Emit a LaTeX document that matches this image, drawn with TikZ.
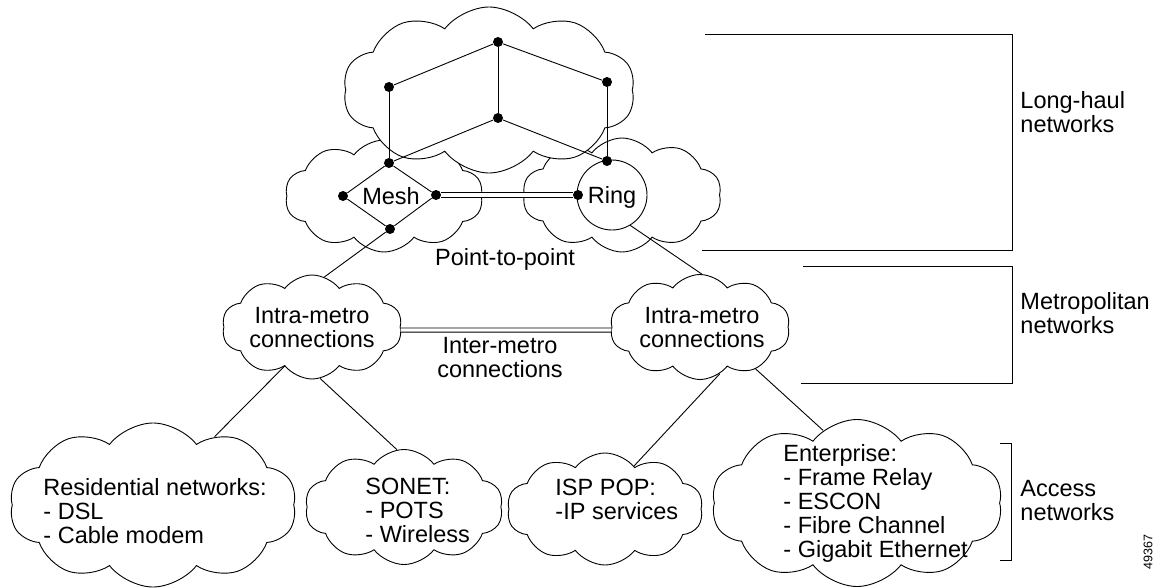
\documentclass[tikz,border=0pt]{standalone}
\usepackage{fontspec}
\setmainfont{Liberation Sans}
\usetikzlibrary{shapes.symbols}

\tikzset{
  netcloud/.style={cloud, draw, fill=white, cloud puffs=10, cloud puff arc=105, cloud ignores aspect, inner sep=0pt},
  netdot/.style={circle, fill=black, inner sep=0pt, minimum size=10pt},
  cloudtext/.style={inner sep=0pt, align=left, anchor=west},
}

\begin{document}
\begin{tikzpicture}[x=1pt, y=-1pt, line width=0.9pt, font=\fontsize{23.5}{24}\selectfont]
        \useasboundingbox (0,0) rectangle (1166,588);

        % long-haul clouds
        \node[netcloud, minimum width=198pt, minimum height=112pt] (lhLeft) at (384,196) {};
        \node[netcloud, minimum width=199pt, minimum height=114pt] (lhRight) at (622,195) {};
        \node[netcloud, minimum width=292pt, minimum height=166pt] (lhTop) at (489,90) {};

        % core nodes
        \node[netdot] (tA) at (498,42) {};
        \node[netdot] (tL) at (389,87) {};
        \node[netdot] (tR) at (607,82) {};
        \node[netdot] (tC) at (498,118) {};
        \node[netdot] (mT) at (389,163) {};
        \node[netdot] (rT) at (607,161) {};
        \node[netdot] (mL) at (343,196) {};
        \node[netdot] (mR) at (436,195) {};
        \node[netdot] (mB) at (390,229) {};
        \node[netdot] (rL) at (578,195) {};
        \node[circle, draw, inner sep=0pt, text depth=0pt, minimum size=70pt] (ring) at (612,195) {Ring};
        \node[inner sep=0pt, text depth=0pt] (meshLbl) at (391,196) {Mesh};

        \draw (tA) -- (tL);
        \draw (tA) -- (tR);
        \draw (tA) -- (tC);
        \draw (tL) -- (mT);
        \draw (tR) -- (rT);
        \draw (tC) -- (mT);
        \draw (tC) -- (rT);
        % mesh
        \draw (mT) -- (mL) -- (mB) -- (mR) -- (mT);
        \draw[double, double distance=4.5pt] (mR) -- (rL);

        \node[inner sep=0pt] (p2p) at (505,259) {Point-to-point};

        % metro clouds
        \node[netcloud, minimum width=180pt, minimum height=104pt] (metroL) at (312,327) {};
        \node[netcloud, minimum width=180pt, minimum height=105pt] (metroR) at (700,327) {};
        \node[inner sep=0pt, align=center] (metroLtxt) at (312,328) {Intra-metro\\connections};
        \node[inner sep=0pt, align=center] (metroRtxt) at (702,328) {Intra-metro\\connections};
        \draw[double, double distance=3.2pt] ([yshift=-3pt]metroL.east) -- ([yshift=-3pt]metroR.west);
        \node[inner sep=0pt, align=center] (intertxt) at (500,358) {Inter-metro\\connections};

        \draw (mB) -- (metroL.76);
        \draw (ring.-59) -- (metroR.88);

        % access clouds
        \node[netcloud, minimum width=287pt, minimum height=164pt] (res) at (153,505) {};
        \node[netcloud, minimum width=198pt, minimum height=115pt] (sonet) at (404,507) {};
        \node[netcloud, minimum width=196pt, minimum height=112pt] (isp) at (605,509) {};
        \node[netcloud, minimum width=291pt, minimum height=167pt] (ent) at (857,503) {};

        \node[cloudtext] (restxt) at (43,511) {Residential networks:\\- DSL\\- Cable modem};
        \node[cloudtext] (sonettxt) at (365,510) {SONET:\\- POTS\\- Wireless};
        \node[cloudtext] (isptxt) at (555,499) {ISP POP:\\-IP services};
        \node[cloudtext] (enttxt) at (783,503) {Enterprise:\\- Frame Relay\\- ESCON\\- Fibre Channel\\- Gigabit Ethernet};

        \draw (metroL.235) -- (res.48);
        \draw (metroL.279) -- (sonet.97);
        \draw (metroR.293) -- (isp.56);
        \draw (metroR.323) -- (ent.115);

        % brackets
        \draw (705,34) -- (1012,34) -- (1012,250) -- (702,250);
        \draw (803,266) -- (1012,266) -- (1012,383) -- (801,383);
        \draw (1000,443) -- (1011,443) -- (1011,560) -- (1000,560);
        \node[cloudtext] (lhLbl) at (1020,112) {Long-haul\\networks};
        \node[cloudtext] (metroLbl) at (1020,313) {Metropolitan\\networks};
        \node[cloudtext] (accLbl) at (1020,501) {Access\\networks};

        \node[rotate=90, inner sep=0pt, font=\fontsize{12.5}{13}\selectfont] (figno) at (1148,552) {49367};
    \end{tikzpicture}
\end{document}
